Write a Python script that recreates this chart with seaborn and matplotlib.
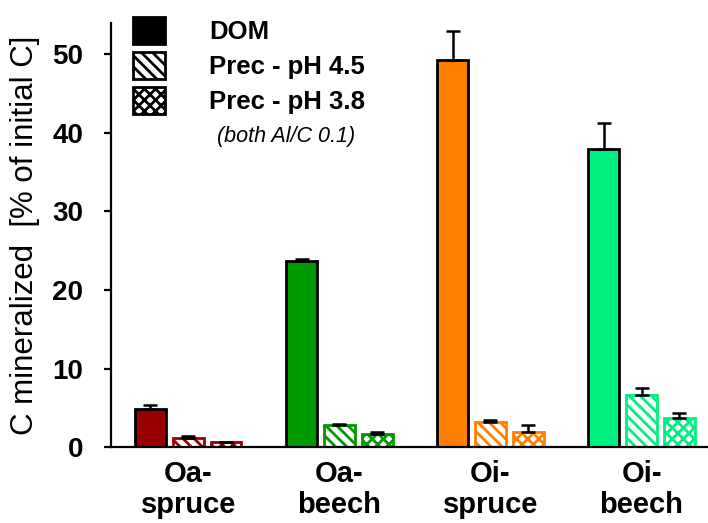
import numpy as np
import pandas as pd
import seaborn as sns
import matplotlib
matplotlib.use("Agg")
import matplotlib.pyplot as plt
from matplotlib.patches import Patch

# ---- data ----
sites = ["Oa-\nspruce", "Oa-\nbeech", "Oi-\nspruce", "Oi-\nbeech"]
treatments = ["DOM", "Prec - pH 4.5", "Prec - pH 3.8"]
dom = [4.9, 23.7, 49.3, 37.9]
dom_err = [0.5, 0.3, 3.7, 3.4]
ph45 = [1.2, 2.8, 3.2, 6.7]
ph45_err = [0.2, 0.2, 0.3, 0.8]
ph38 = [0.6, 1.7, 1.9, 3.7]
ph38_err = [0.1, 0.2, 0.9, 0.7]
site_colors = ["#990000", "#009900", "#FF8000", "#00F080"]
hatches = ["", "\\\\\\", "xxx"]
yticks = [0, 10, 20, 30, 40, 50]

sns.set_theme(style="white")
plt.rcParams["font.family"] = ["Liberation Sans", "DejaVu Sans"]
plt.rcParams["hatch.linewidth"] = 2.0
for k in ["text.color", "axes.labelcolor", "xtick.color", "ytick.color"]:
    plt.rcParams[k] = "black"

values = [dom, ph45, ph38]
errors = [dom_err, ph45_err, ph38_err]
rows = []
for t, vals in zip(treatments, values):
    for s, v in zip(sites, vals):
        rows.append({"site": s, "treatment": t, "value": v})
df = pd.DataFrame(rows)

fig = plt.figure(figsize=(7.08, 5.23), dpi=100)
ax = fig.add_axes([0.157, 0.145, 0.843, 0.8115])

sns.barplot(data=df, x="site", y="value", hue="treatment", order=sites,
            hue_order=treatments, width=0.75, gap=0.18, errorbar=None,
            palette=["#000000"] * 3, ax=ax, legend=False)

bar_containers = list(ax.containers)
for ti, cont in enumerate(bar_containers):
    for si, patch in enumerate(cont.patches):
        col = site_colors[si]
        if ti == 0:
            patch.set_facecolor(col)
            patch.set_edgecolor("black")
        else:
            patch.set_facecolor("white")
            patch.set_edgecolor(col)
            patch.set_hatch(hatches[ti])
        patch.set_linewidth(2.0)
        x = patch.get_x() + patch.get_width() / 2
        h = patch.get_height()
        ax.errorbar([x], [h], yerr=[[0], [errors[ti][si]]], fmt="none",
                    ecolor="black", elinewidth=1.8, capsize=5, capthick=1.8,
                    zorder=1)

ax.set_xlim(-0.51, 3.44)
ax.set_ylim(0, 54)
ax.set_yticks(yticks)
ax.set_yticklabels([str(v) for v in yticks], fontsize=20, fontweight="bold")
ax.set_xticks(range(len(sites)))
ax.set_xticklabels(sites, fontsize=21, fontweight="bold", linespacing=1.15)
ax.set_xlabel("")
ax.set_ylabel("C mineralized  [% of initial C]", fontsize=22.5, labelpad=9)

for sp in ["top", "right"]:
    ax.spines[sp].set_visible(False)
for sp in ["left", "bottom"]:
    ax.spines[sp].set_linewidth(1.6)
    ax.spines[sp].set_color("black")
ax.tick_params(axis="y", direction="out", length=5, width=1.6, pad=15, left=True)
ax.tick_params(axis="x", length=0, pad=9)

handles = [
    Patch(facecolor="black", edgecolor="black", linewidth=2),
    Patch(facecolor="white", edgecolor="black", hatch="\\\\\\", linewidth=2),
    Patch(facecolor="white", edgecolor="black", hatch="xxx", linewidth=2),
]
leg = ax.legend(handles, treatments, loc="upper left",
                bbox_to_anchor=(0.037, 1.013), frameon=False,
                borderpad=0, borderaxespad=0, handlelength=1.25,
                handleheight=1.25, handletextpad=1.7, labelspacing=0.3,
                prop={"size": 18.5, "weight": "bold"})
ax.text(0.293, 0.733, "(both Al/C 0.1)", transform=ax.transAxes,
        fontsize=15.5, fontstyle="italic", ha="center", va="center")

fig.savefig("out.png", dpi=100)
